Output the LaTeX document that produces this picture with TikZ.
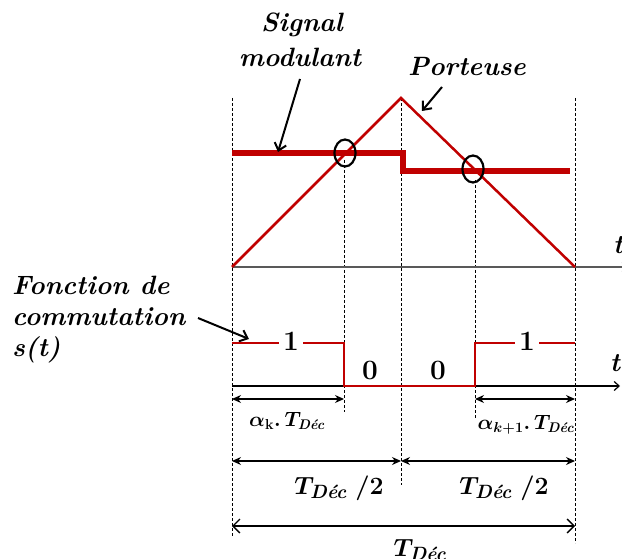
\documentclass[tikz,border=0pt]{standalone}
\usepackage{amsmath,bm}
\usetikzlibrary{arrows.meta,shapes.geometric}
\definecolor{sigred}{RGB}{192,0,0}
\begin{document}
\begin{tikzpicture}[x=1pt,y=-1pt,
  lbl/.style={font=\fontsize{26.5}{28}\selectfont\bfseries\itshape, inner sep=0pt},
  mlbl/.style={font=\fontsize{27.5}{29}\selectfont\boldmath, inner sep=0pt},
  slbl/.style={font=\fontsize{20}{22}\selectfont\boldmath, inner sep=0pt},
  numlbl/.style={font=\fontsize{28}{30}\selectfont\bfseries, inner sep=0pt, minimum width=24pt, fill=white},
  guide/.style={dashed, line width=0.7pt, dash pattern=on 3pt off 2pt},
  carrier/.style={sigred, line width=2.5pt},
  modsig/.style={sigred, line width=6pt},
  swsig/.style={sigred, line width=2.5pt},
  dimarrow/.style={line width=1.3pt, {Stealth[length=9pt,width=8pt]}-{Stealth[length=9pt,width=8pt]}},
  openarrow/.style={line width=1.3pt, {Straight Barb[length=7pt,width=14pt]}-{Straight Barb[length=7pt,width=14pt]}},
  pointer/.style={line width=2pt, -{Straight Barb[length=7pt,width=12pt]}},
  ring/.style={line width=2.2pt, black}]
\useasboundingbox (0,0) rectangle (622,559);

% guide lines
\draw[guide] (232,98) -- (232,537);
\draw[guide] (344,160) -- (344,412);
\draw[guide] (401,98) -- (401,485);
\draw[guide] (475,180) -- (475,418);
\draw[guide] (575,98) -- (575,543);

% upper axis
\draw[gray!70!black, line width=1.2pt, -{Straight Barb[length=5pt,width=9pt]}] (232,267) -- (628,267);
\node[lbl, anchor=west] (tup) at (613,245) {t};

% carrier
\draw[carrier, line join=miter] (232,267) -- (401,98) -- (575,267);
% modulating signal
\draw[modsig] (232,153) -- (403,153) -- (403,171) -- (570,171);

% rings
\node[ring, draw, ellipse, minimum width=21pt, minimum height=27pt, inner sep=0pt] (c1) at (345,153) {};
\node[ring, draw, ellipse, minimum width=21pt, minimum height=27pt, inner sep=0pt] (c2) at (473,169) {};

% labels top
\node[lbl] (sig) at (302,25) {Signal};
\node[lbl] (mod) at (300,57) {modulant};
\node[lbl] (port) at (467,67) {Porteuse};
\coordinate (sigtail) at (300,79);
\coordinate (sigtip) at (278,152);
\draw[pointer] (sigtail) -- (sigtip);
\coordinate (porttail) at (442,87);
\coordinate (porttip) at (422,111);
\draw[pointer] (porttail) -- (porttip);

% switching function
\node[lbl, anchor=west] (f1) at (12,285) {Fonction de};
\node[lbl, anchor=west] (f2) at (12,317) {commutation};
\node[lbl, anchor=west] (f3) at (12,350) {s(t)};
\coordinate (ftail) at (198,318);
\coordinate (ftip) at (249,339);
\draw[pointer] (ftail) -- (ftip);

% lower axis
\draw[line width=1.2pt, -{Straight Barb[length=5pt,width=9pt]}] (232,386) -- (620,386);
\node[lbl] (tlow) at (615,363) {t};

\draw[swsig, line join=miter] (232,343) -- (344,343) -- (344,386) -- (475,386) -- (475,343) -- (575,343);
\node[numlbl] (one1) at (291,341) {1};
\node[numlbl] (one2) at (527,341) {1};
\node[numlbl, fill=none] (zero1) at (370,370) {0};
\node[numlbl, fill=none] (zero2) at (438,370) {0};

% dimension arrows
\coordinate (a1) at (232,399);
\coordinate (a2) at (344,399);
\draw[dimarrow] (a1) -- (a2);
\node[slbl] (al1) at (287,421) {$\alpha_{\mathbf{k}}\mathbf{.}\,T_{\textbf{\textit{Déc}}}$};
\coordinate (b1) at (475,399);
\coordinate (b2) at (575,399);
\draw[dimarrow] (b1) -- (b2);
\node[slbl] (al2) at (526,425) {$\bm{\alpha}_{\bm{k+1}}\mathbf{.}\,T_{\textbf{\textit{Déc}}}$};

\coordinate (h1) at (232,461);
\coordinate (h2) at (401,461);
\coordinate (h3) at (575,461);
\draw[dimarrow] (h1) -- (h2);
\draw[dimarrow] (h2) -- (h3);
\node[mlbl] (half1) at (339,488) {$T_{\textbf{\textit{Déc}}}\ /2$};
\node[mlbl] (half2) at (504,488) {$T_{\textbf{\textit{Déc}}}\ /2$};

\coordinate (p1) at (232,526);
\coordinate (p2) at (575,526);
\draw[openarrow] (p1) -- (p2);
\node[mlbl] (per) at (420,550) {$T_{\textbf{\textit{Déc}}}$};
\end{tikzpicture}
\end{document}
